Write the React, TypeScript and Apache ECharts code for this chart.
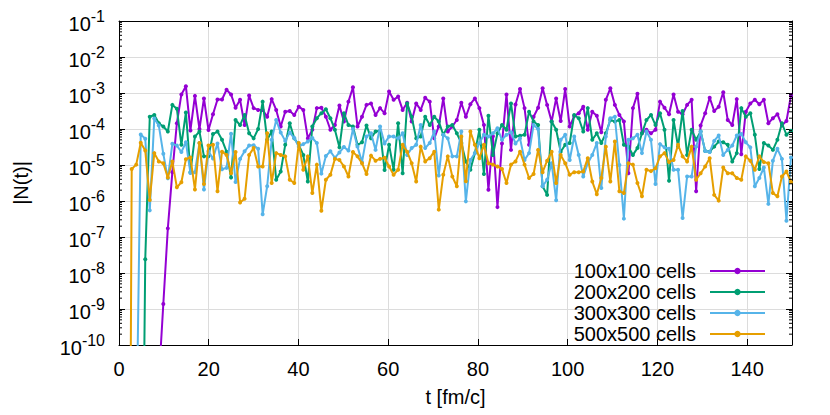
import React, { useEffect, useRef } from "react";
import * as echarts from "echarts";

// time grid of the samples (t in fm/c)
const T_START = 0.82;
const T_STEP = 1.0064;

// log10 |N(t)| (very small numbers = below the plotted range)
const log100 = [
  -30, -30, -30, -30, -30, -30, -30, -30, -11, -8.86,
  -6.76, -5.2, -3.84, -3.04, -2.81, -4.04, -3.08, -4.0, -3.15, -4.03,
  -3.59, -3.18, -3.18, -2.91, -3.04, -3.41, -3.19, -3.89, -3.07, -3.42,
  -3.47, -3.47, -3.66, -3.17, -3.47, -3.93, -3.52, -3.5, -3.61, -3.38,
  -3.47, -4.26, -4.02, -3.42, -3.41, -3.66, -4.02, -3.89, -3.35, -3.79,
  -3.24, -2.84, -3.93, -3.66, -3.33, -3.29, -3.61, -3.42, -3.56, -2.96,
  -3.19, -3.1, -3.47, -3.27, -3.79, -3.29, -3.47, -3.13, -3.24, -4.26,
  -3.93, -3.15, -4.07, -3.93, -3.75, -3.27, -3.66, -3.31, -3.15, -3.42,
  -3.89, -5.69, -4.2, -6.17, -4.4, -3.04, -4.58, -3.32, -2.89, -3.42,
  -4.44, -3.66, -3.41, -2.87, -3.33, -3.79, -3.15, -3.78, -2.89, -3.93,
  -3.64, -3.56, -3.38, -4.02, -3.52, -3.63, -4.09, -3.19, -2.87, -3.33,
  -3.61, -3.79, -5.23, -3.42, -3.02, -4.12, -4.02, -4.12, -4.02, -3.24,
  -3.41, -3.59, -3.04, -3.52, -3.59, -3.33, -3.19, -5.73, -3.9, -3.56,
  -3.13, -3.5, -3.38, -2.98, -3.75, -3.89, -3.17, -4.7, -3.52, -3.29,
  -3.19, -3.31, -3.19, -3.84, -3.7, -3.59, -3.9, -3.78, -3.07,
];

const log200 = [
  -30, -30, -30, -30, -20, -7.62, -3.66, -3.61, -3.84, -3.93,
  -4.07, -3.33, -3.44, -4.44, -3.54, -5.2, -4.21, -4.07, -4.76, -4.76,
  -4.14, -4.07, -4.3, -4.63, -5.35, -3.75, -3.89, -3.61, -4.12, -4.26,
  -4.0, -3.24, -4.3, -4.07, -5.41, -5.18, -4.44, -3.84, -4.26, -4.44,
  -4.72, -5.46, -3.93, -3.7, -3.56, -3.45, -3.7, -4.02, -4.51, -3.56,
  -3.89, -3.93, -4.44, -4.37, -3.9, -4.26, -4.07, -4.05, -5.14, -4.44,
  -5.13, -3.84, -5.23, -3.29, -3.66, -4.26, -4.21, -3.66, -3.89, -3.66,
  -3.79, -4.16, -3.93, -3.89, -4.12, -4.39, -4.9, -5.13, -4.67, -4.02,
  -5.25, -3.63, -4.72, -4.12, -3.89, -4.02, -3.29, -4.21, -4.19, -4.16,
  -3.52, -3.79, -3.89, -5.59, -5.83, -3.79, -4.02, -4.63, -4.44, -4.39,
  -3.61, -3.7, -4.07, -3.42, -4.3, -4.12, -4.39, -4.12, -3.75, -3.79,
  -3.75, -4.44, -4.49, -4.72, -4.53, -4.12, -3.75, -3.61, -3.89, -3.56,
  -4.02, -5.44, -3.75, -4.49, -3.5, -4.72, -4.02, -4.3, -4.07, -4.61,
  -4.63, -4.49, -4.35, -4.37, -4.44, -4.9, -4.67, -3.42, -3.66, -3.56,
  -4.16, -5.11, -4.39, -4.46, -4.58, -4.3, -3.84, -4.16, -4.05,
];

const log300 = [
  -30, -30, -30, -13, -4.15, -4.27, -6.26, -3.71, -3.9, -4.69,
  -5.37, -4.41, -4.46, -4.64, -4.37, -5.22, -5.2, -4.39, -5.68, -4.62,
  -4.82, -4.4, -5.12, -5.08, -4.13, -5.47, -4.83, -4.62, -4.46, -4.45,
  -4.55, -6.37, -5.59, -4.3, -3.75, -4.1, -4.33, -4.1, -4.25, -4.49,
  -4.42, -4.35, -4.25, -4.39, -5.24, -4.75, -4.62, -4.8, -4.65, -4.5,
  -4.6, -4.0, -4.49, -4.92, -4.21, -4.12, -4.58, -3.93, -4.4, -4.21,
  -4.21, -4.26, -4.12, -4.72, -4.53, -4.44, -3.89, -4.53, -4.39, -4.07,
  -5.29, -4.16, -4.26, -4.76, -4.76, -4.07, -6.01, -4.86, -4.67, -4.39,
  -4.16, -4.21, -4.12, -3.98, -4.3, -4.16, -4.09, -4.4, -4.26, -4.86,
  -4.67, -3.89, -4.0, -5.59, -5.41, -4.95, -5.98, -4.3, -4.16, -4.86,
  -4.21, -4.72, -5.32, -4.95, -4.72, -4.39, -5.64, -4.21, -3.7, -3.66,
  -5.0, -6.49, -4.3, -4.26, -4.16, -4.67, -4.07, -4.3, -5.53, -4.42,
  -4.51, -4.55, -5.13, -5.13, -6.47, -5.32, -5.32, -4.49, -4.07, -4.61,
  -4.64, -4.33, -4.18, -4.72, -4.58, -4.46, -4.18, -4.14, -4.37, -4.51,
  -5.59, -5.36, -5.07, -6.08, -4.88, -4.55, -4.83, -6.55, -4.79,
];

const log500 = [
  -30, -30, -5.11, -4.99, -4.38, -4.6, -5.97, -4.67, -4.9, -4.95,
  -5.35, -4.9, -5.62, -5.48, -4.84, -4.79, -5.68, -4.39, -5.53, -4.46,
  -4.44, -5.73, -4.63, -4.72, -5.23, -4.64, -6.04, -5.94, -4.72, -4.53,
  -5.04, -5.04, -4.12, -5.5, -4.67, -4.72, -4.76, -5.41, -5.5, -4.39,
  -5.13, -4.76, -5.78, -4.99, -6.27, -5.41, -5.27, -4.83, -4.86, -5.04,
  -5.32, -4.64, -4.76, -4.95, -5.25, -4.74, -4.88, -4.83, -4.8, -5.04,
  -5.27, -5.13, -4.44, -4.63, -4.95, -5.46, -4.49, -4.9, -4.81, -4.63,
  -6.24, -5.27, -4.76, -5.32, -5.59, -4.21, -5.45, -4.07, -4.44, -4.81,
  -4.44, -4.95, -4.99, -5.04, -5.11, -5.5, -4.99, -4.9, -4.63, -4.99,
  -5.36, -5.25, -4.58, -5.2, -4.88, -4.63, -5.5, -4.72, -4.95, -5.27,
  -5.2, -5.2, -5.18, -4.81, -5.46, -5.81, -5.36, -4.49, -5.46, -4.35,
  -5.73, -5.78, -4.95, -4.99, -5.5, -5.87, -5.13, -5.17, -5.09, -4.76,
  -4.67, -4.92, -4.86, -4.44, -4.76, -4.9, -4.49, -5.41, -5.23, -5.04,
  -4.81, -5.83, -5.99, -5.07, -5.23, -5.23, -5.36, -5.41, -4.76, -4.88,
  -5.13, -4.76, -4.92, -4.95, -5.78, -5.87, -5.32, -5.18, -5.47,
];

const seriesNames = ["100x100 cells", "200x200 cells", "300x300 cells", "500x500 cells"];
const seriesLogs = [log100, log200, log300, log500];
const seriesColors = ["#9400d3", "#009e73", "#56b4e9", "#e69f00"];

const xTicks = [0, 20, 40, 60, 80, 100, 120, 140];
const decades = [-10, -9, -8, -7, -6, -5, -4, -3, -2, -1];
const minorMults = [2, 3, 4, 5, 6, 7, 8, 9];

const FONT = "'Liberation Sans', Arial, sans-serif";

export default function App() {
  const ref = useRef<HTMLDivElement>(null);
  useEffect(() => {
    if (!ref.current) return;
    const chart = echarts.init(ref.current, undefined, { renderer: "svg" });

    const minorVals: number[][] = [];
    decades.slice(0, -1).forEach((d) => {
      minorMults.forEach((m) => minorVals.push([0, m * Math.pow(10, d)]));
    });

    const lineSeries = seriesLogs.map((logs, i) => ({
      type: "line",
      name: seriesNames[i],
      data: logs.map((e, k) => [T_START + T_STEP * k, Math.pow(10, e)]),
      color: seriesColors[i],
      lineStyle: { width: 2, color: seriesColors[i] },
      itemStyle: { color: seriesColors[i] },
      symbol: "circle",
      symbolSize: 4,
      showSymbol: true,
      clip: true,
      xAxisIndex: 0,
      yAxisIndex: 0,
      z: 3 + i,
    }));

    const xMin = 0;
    const xMax = 150;

    const axisLine = { show: true, onZero: false, lineStyle: { color: "#000", width: 1 } };

    chart.setOption({
      animation: false,
      backgroundColor: "#fff",
      grid: { left: 119, right: 38, top: 21, bottom: 70, containLabel: false },
      legend: {
        data: seriesNames,
        orient: "vertical",
        right: 59,
        top: 256,
        align: "right",
        itemWidth: 55,
        itemHeight: 8,
        itemGap: 1,
        textStyle: { fontSize: 20, fontFamily: FONT, color: "#000", padding: [0, 9, 0, 0] },
        selectedMode: false,
      },
      xAxis: [
        {
          type: "value",
          min: xMin,
          max: xMax,
          interval: 20,
          position: "bottom",
          name: "t [fm/c]",
          nameLocation: "middle",
          nameGap: 42,
          nameTextStyle: { fontSize: 20, fontFamily: FONT, color: "#000" },
          axisLine,
          axisTick: { show: true, inside: true, length: 6, lineStyle: { color: "#000" } },
          axisLabel: {
            fontSize: 20,
            fontFamily: FONT,
            color: "#000",
            margin: 14,
            formatter: (v: number) => (xTicks.includes(v) ? String(v) : ""),
          },
          splitLine: { show: true, lineStyle: { color: "#dcdcdc", width: 1 } },
        },
        {
          type: "value",
          min: xMin,
          max: xMax,
          interval: 20,
          position: "top",
          axisLine,
          axisTick: { show: true, inside: true, length: 6, lineStyle: { color: "#000" } },
          axisLabel: { show: false },
          splitLine: { show: false },
        },
      ],
      yAxis: [
        {
          type: "log",
          logBase: 10,
          min: 1e-10,
          max: 1e-1,
          splitNumber: 9,
          position: "left",
          name: "|N(t)|",
          nameLocation: "middle",
          nameRotate: 90,
          nameGap: 88,
          nameTextStyle: { fontSize: 20, fontFamily: FONT, color: "#000" },
          axisLine,
          axisTick: { show: true, inside: true, length: 6, lineStyle: { color: "#000" } },
          axisLabel: {
            margin: 14,
            formatter: (v: number) => {
              const e = Math.round(Math.log10(v));
              return "{b|10}{s|" + e + "}";
            },
            rich: {
              b: { fontSize: 20, fontFamily: FONT, color: "#000", lineHeight: 26, verticalAlign: "bottom" },
              s: { fontSize: 16, fontFamily: FONT, color: "#000", lineHeight: 16, verticalAlign: "top" },
            },
          },
          splitLine: { show: true, lineStyle: { color: "#dcdcdc", width: 1 } },
        },
        {
          type: "log",
          logBase: 10,
          min: 1e-10,
          max: 1e-1,
          splitNumber: 9,
          position: "right",
          axisLine,
          axisTick: { show: true, inside: true, length: 6, lineStyle: { color: "#000" } },
          axisLabel: { show: false },
          splitLine: { show: false },
        },
      ],
      series: [
        ...lineSeries,
        {
          type: "custom",
          name: "minorTicks",
          silent: true,
          xAxisIndex: 0,
          yAxisIndex: 0,
          z: 10,
          data: minorVals,
          renderItem: (_params: any, api: any) => {
            const v = api.value(1);
            const pL = api.coord([xMin, v]);
            const pR = api.coord([xMax, v]);
            return {
              type: "group",
              children: [
                { type: "line", shape: { x1: pL[0], y1: pL[1], x2: pL[0] + 3, y2: pL[1] }, style: { stroke: "#000", lineWidth: 1 } },
                { type: "line", shape: { x1: pR[0], y1: pR[1], x2: pR[0] - 3, y2: pR[1] }, style: { stroke: "#000", lineWidth: 1 } },
              ],
            };
          },
        },
      ],
    });
    return () => chart.dispose();
  }, []);

  return (
    <div
      ref={ref}
      style={{ position: "absolute", left: 0, top: 0, width: 830, height: 415, background: "#fff" }}
    />
  );
}
